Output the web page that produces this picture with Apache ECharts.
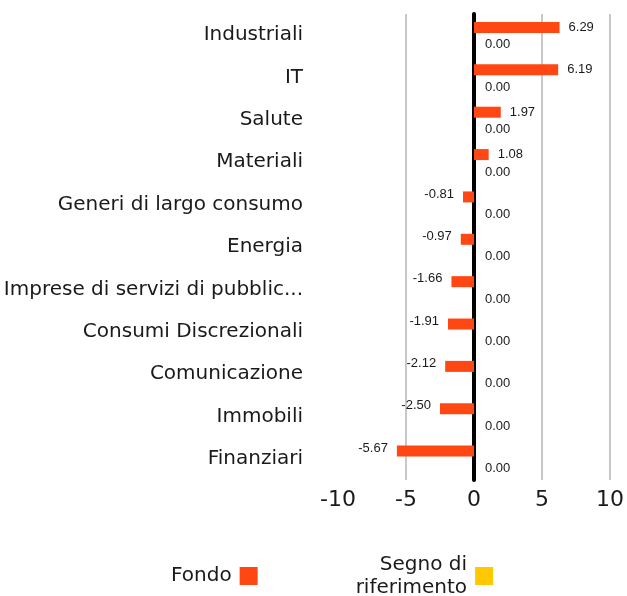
<!DOCTYPE html>
<html>
<head>
<meta charset="utf-8">
<script src="https://cdn.jsdelivr.net/npm/echarts@6/dist/echarts.min.js"></script>
<style>
  html, body { margin: 0; padding: 0; background: #fff; }
  #chart { width: 627px; height: 596px; }
</style>
</head>
<body>
<div id="chart"></div>
<script>
  const categories = ['Industriali', 'IT', 'Salute', 'Materiali', 'Generi di largo consumo', 'Energia',
    'Imprese di servizi di pubblica utilità', 'Consumi Discrezionali', 'Comunicazione', 'Immobili', 'Finanziari']
  const fondo = [6.29, 6.19, 1.97, 1.08, -0.81, -0.97, -1.66, -1.91, -2.12, -2.50, -5.67]
  const riferimento = [0, 0, 0, 0, 0, 0, 0, 0, 0, 0, 0]
  const xTicks = [-10, -5, 0, 5, 10]

  const myChart = echarts.init(document.getElementById('chart'))
  const font = 'DejaVu Sans'
  const numFont = 'Liberation Sans'

  let option = {
    animation: false,
    textStyle: { fontFamily: font },
    grid: { left: 338, right: 9, top: 14, bottom: 116 },
    legend: {
      bottom: -8,
      left: 166,
      align: 'right',
      itemWidth: 18,
      itemHeight: 18,
      itemGap: 98,
      icon: 'rect',
      textStyle: { fontSize: 20, color: '#1a1a1a', lineHeight: 23, fontFamily: font, padding: [0, 3, 0, 0] },
      formatter: function (name) {
        return name === 'Segno di riferimento' ? 'Segno di\nriferimento' : name
      },
      data: ['Fondo', 'Segno di riferimento']
    },
    xAxis: {
      type: 'value',
      min: xTicks[0],
      max: xTicks[xTicks.length - 1],
      interval: 5,
      axisLine: { show: false },
      axisTick: { show: false },
      axisLabel: { fontSize: 22, color: '#1a1a1a', margin: 9, fontFamily: font },
      splitLine: {
        lineStyle: { color: ['rgba(0,0,0,0)', '#c8c8c8', '#c8c8c8', '#c8c8c8', '#c8c8c8'], width: 2 }
      }
    },
    yAxis: {
      type: 'category',
      inverse: true,
      data: categories,
      axisTick: { show: false },
      axisLine: { show: true, onZero: true, lineStyle: { color: '#000', width: 4 } },
      axisLabel: {
        fontSize: 20,
        color: '#1a1a1a',
        margin: 35,
        width: 304,
        overflow: 'truncate',
        fontFamily: font
      }
    },
    series: [{
      name: 'Fondo',
      type: 'bar',
      data: fondo,
      barWidth: 11,
      barGap: '40%',
      itemStyle: { color: '#ff4713' },
      label: {
        show: true,
        fontSize: 13,
        fontFamily: numFont,
        color: '#1a1a1a',
        distance: 9,
        formatter: function (p) { return p.value.toFixed(2) },
        position: 'right'
      }
    }, {
      name: 'Segno di riferimento',
      type: 'bar',
      data: riferimento,
      barWidth: 11,
      itemStyle: { color: '#ffc800' },
      label: {
        show: true,
        position: 'right',
        distance: 11,
        fontSize: 13,
        fontFamily: numFont,
        color: '#1a1a1a',
        offset: [0, 2],
        formatter: function (p) { return p.value.toFixed(2) }
      }
    }]
  }

  // etichette a sinistra per i valori negativi
  option.series[0].data = fondo.map(function (v) {
    return v < 0 ? { value: v, label: { position: 'left', offset: [0, -3] } } : v
  })

  myChart.setOption(option)
</script>
</body>
</html>
